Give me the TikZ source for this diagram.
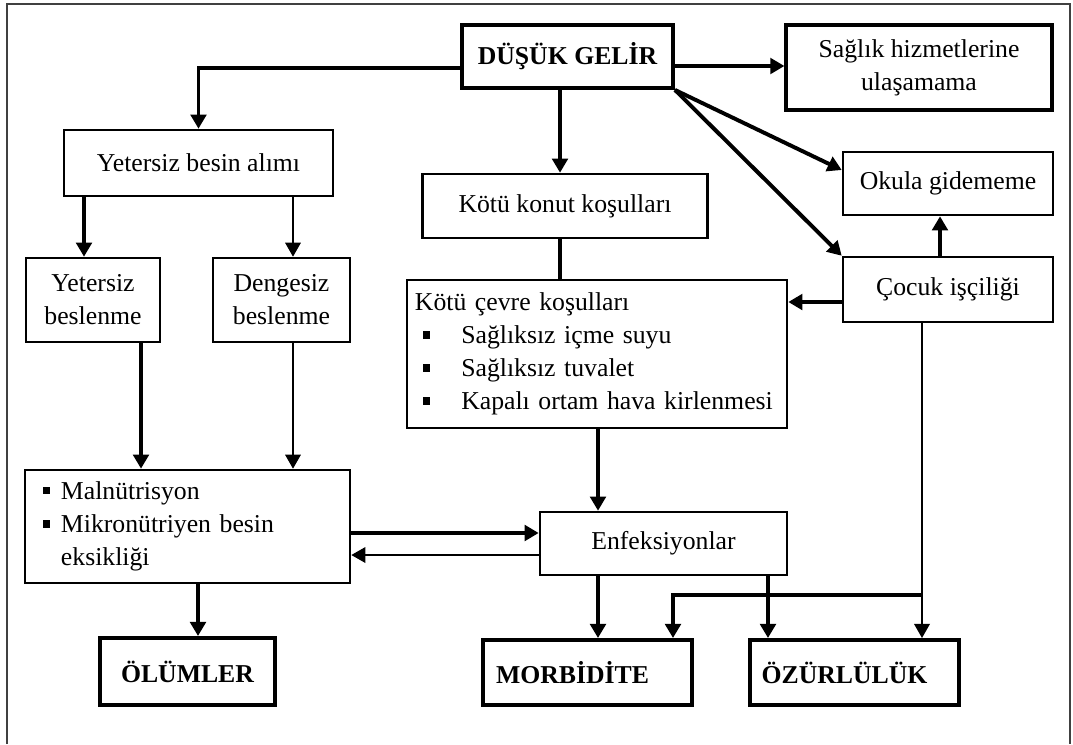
\documentclass[tikz,border=0pt]{standalone}
\usepackage{fontspec}
\setmainfont{Liberation Serif}
\usetikzlibrary{arrows.meta,positioning}
\newcommand{\kare}{\rule[0.2em]{0.28em}{0.28em}}
\begin{document}
\begin{tikzpicture}[x=0.025cm,y=-0.025cm,>={Triangle[length=10pt,width=11pt]},
  font=\fontsize{18.3}{23.5}\selectfont,
  kutu/.style={draw,line width=1.8pt,align=center,inner sep=2pt},
  ana/.style={kutu,line width=2.8pt,font=\fontsize{18.3}{23.5}\selectfont\bfseries},
  kalin/.style={line width=2.8pt,->},
  ince/.style={line width=1.4pt,->}]
\useasboundingbox (0,0) rectangle (1073,744);
\draw[line width=0.9pt,black!75] (7,744)--(7,4)--(1070,4)--(1070,744);
\node[ana,minimum width=5.275cm,minimum height=1.575cm] (gelir) at (567.5,56.5) {DÜŞÜK GELİR};
\node[ana,line width=2.2pt,font=\fontsize{18.3}{23.5}\selectfont,minimum width=6.65cm,minimum height=2.125cm] (saglik) at (919,67.5) {Sağlık hizmetlerine\\ulaşamama};
\node[kutu,minimum width=5.25cm,minimum height=1.575cm] (okula) at (948,183.5) {Okula gidememe};
\node[kutu,minimum width=5.25cm,minimum height=1.625cm] (cocuk) at (948,289.5) {Çocuk işçiliği};
\node[kutu,minimum width=6.725cm,minimum height=1.65cm] (alim) at (198.5,163) {Yetersiz besin alımı};
\node[kutu,minimum width=7.125cm,minimum height=1.6cm] (konut) at (565,206) {Kötü konut koşulları};
\node[kutu,minimum width=3.35cm,minimum height=2.1cm] (yeterb) at (93,300) {Yetersiz\\beslenme};
\node[kutu,minimum width=3.425cm,minimum height=2.1cm] (dengeb) at (281.5,300) {Dengesiz\\beslenme};
\node[kutu,align=left,inner xsep=0.2cm,text width=9.1cm,minimum height=3.7cm] (cevre) at (597,354)
  {Kötü çevre koşulları\\
   \hspace*{0.3em}\makebox[1.5em][l]{\kare}Sağlıksız içme suyu\\
   \hspace*{0.3em}\makebox[1.5em][l]{\kare}Sağlıksız tuvalet\\
   \hspace*{0.3em}\makebox[1.5em][l]{\kare}Kapalı ortam hava kirlenmesi};
\node[kutu,align=left,inner xsep=0.45cm,text width=7.225cm,minimum height=2.825cm] (mal) at (187.5,526.5)
  {\makebox[0.7em][l]{\kare}Malnütrisyon\\
   \makebox[0.7em][l]{\kare}Mikronütriyen besin\\
   \hspace*{0.7em}eksikliği};
\node[kutu,minimum width=6.175cm,minimum height=1.575cm] (enf) at (663.5,543.5) {Enfeksiyonlar};
\node[ana,minimum width=4.375cm,minimum height=1.675cm] (olum) at (187.5,671.5) {ÖLÜMLER};
\node[ana,minimum width=5.225cm,minimum height=1.625cm] (morb) at (587.5,672.5) {MORBİDİTE\hspace*{0.75cm}};
\node[ana,minimum width=5.225cm,minimum height=1.625cm] (ozur) at (854.5,672.5) {ÖZÜRLÜLÜK\hspace*{0.5cm}};
\coordinate (kol) at (922,595);
\draw[kalin] (gelir.west |- 0,68) -| (alim.north);
\draw[kalin] (gelir.east |- 0,66) -- (saglik.west |- 0,66);
\draw[kalin] (gelir.south -| 560,0) -- (konut.north -| 560,0);
\draw[kalin] (gelir.south east) -- (okula.west |- 0,170);
\draw[kalin] (gelir.south east) -- (cocuk.north west);
\draw[line width=2.8pt] (konut.south -| 560,0) -- (cevre.north -| 560,0);
\draw[kalin] (cocuk.west |- 0,302) -- (cevre.east |- 0,302);
\draw[kalin] (cocuk.north -| 940,0) -- (okula.south -| 940,0);
\foreach \a/\b/\x in {alim/yeterb/84,yeterb/mal/141,cevre/enf/598,mal/olum/198,enf/morb/598,enf/ozur/768}{
\draw[kalin] (\a.south -| \x,0) -- (\b.north -| \x,0);}
\foreach \a/\b/\x in {alim/dengeb/293,dengeb/mal/293,cocuk/ozur/922}{
\draw[ince] (\a.south -| \x,0) -- (\b.north -| \x,0);}
\draw[kalin] (mal.east |- 0,533) -- (enf.west |- 0,533);
\draw[ince] (enf.west |- 0,555) -- (mal.east |- 0,555);
\draw[kalin] (kol) -| (morb.north -| 673,0);
\end{tikzpicture}
\end{document}
